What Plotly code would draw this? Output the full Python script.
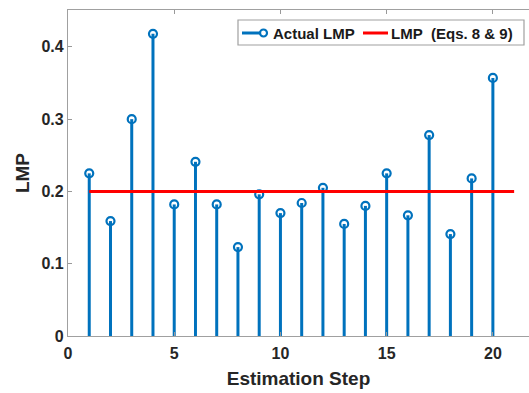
import plotly.graph_objects as go

steps = list(range(1, 21))
actual_lmp = [0.225, 0.159, 0.300, 0.418, 0.182, 0.241, 0.182, 0.123, 0.196, 0.170,
              0.184, 0.205, 0.155, 0.180, 0.225, 0.167, 0.278, 0.141, 0.218, 0.357]
eq_x = [1, 21]
eq_lmp = [0.2, 0.2]

x_ticks = [0, 5, 10, 15, 20]
y_ticks = [0, 0.1, 0.2, 0.3, 0.4]
y_tick_text = ["0", "0.1", "0.2", "0.3", "0.4"]
legend_names = ["Actual LMP", "LMP&nbsp;&nbsp;(Eqs. 8 &amp; 9)"]

blue = "#0072BD"
red = "#FF0000"
W, H = 529, 393
L, R, T, B = 68, 0, 10, 57
font_family = "Arial, Liberation Sans, sans-serif"

stem_x, stem_y = [], []
for s, v in zip(steps, actual_lmp):
    stem_x += [s, s, None]
    stem_y += [0, v, None]

fig = go.Figure()
fig.add_trace(go.Scatter(x=stem_x, y=stem_y, mode="lines",
                         line=dict(color=blue, width=3), showlegend=False, hoverinfo="skip"))
fig.add_trace(go.Scatter(x=steps, y=actual_lmp, mode="markers", name=legend_names[0],
                         marker=dict(symbol="circle-open", size=8, color=blue,
                                     line=dict(width=2.2, color=blue)),
                         showlegend=False))
fig.add_trace(go.Scatter(x=eq_x, y=eq_lmp, mode="lines", name=legend_names[1],
                         line=dict(color=red, width=3), showlegend=False))

# manual MATLAB-style legend (pixel -> paper helpers)
pw, ph = W - L - R, H - T - B
def px(x):
    return (x - L) / pw
def py(y):
    return (H - B - y) / ph

shapes = [
    dict(type="rect", xref="paper", yref="paper", x0=px(238), x1=px(524), y0=py(45), y1=py(20),
         line=dict(color="#a0a0a0", width=1.2), fillcolor="white", layer="above"),
    dict(type="line", xref="paper", yref="paper", x0=px(242), x1=px(265), y0=py(33), y1=py(33),
         line=dict(color=blue, width=3), layer="above"),
    dict(type="circle", xref="paper", yref="paper", x0=px(260), x1=px(267), y0=py(36.5), y1=py(29.5),
         line=dict(color=blue, width=2.2), fillcolor="white", layer="above"),
    dict(type="line", xref="paper", yref="paper", x0=px(363), x1=px(388), y0=py(33), y1=py(33),
         line=dict(color=red, width=3), layer="above"),
]
annotations = [
    dict(xref="paper", yref="paper", x=px(271), y=py(33), xanchor="left", yanchor="middle",
         text=legend_names[0], showarrow=False,
         font=dict(size=15, weight="bold", color="#1a1a1a", family=font_family)),
    dict(xref="paper", yref="paper", x=px(389), y=py(33), xanchor="left", yanchor="middle",
         text=legend_names[1], showarrow=False,
         font=dict(size=15, weight="bold", color="#1a1a1a", family=font_family)),
]

fig.update_layout(
    width=W, height=H,
    margin=dict(l=L, r=R, t=T, b=B),
    paper_bgcolor="white", plot_bgcolor="white",
    font=dict(family=font_family, color="#262626"),
    showlegend=False,
    shapes=shapes, annotations=annotations,
    xaxis=dict(range=[0, 21.7], tickvals=x_ticks, ticks="inside", ticklen=4,
               tickcolor="#999999", showline=True, linecolor="#a0a0a0", linewidth=1.2,
               mirror="ticks", showgrid=False, zeroline=False, automargin=False,
               ticklabelstandoff=3,
               tickfont=dict(size=16, weight="bold", color="#262626"),
               title=dict(text="Estimation Step", font=dict(size=19, weight="bold", color="#262626"),
                          standoff=10)),
    yaxis=dict(range=[0, 0.451], tickvals=y_ticks, ticktext=y_tick_text,
               ticks="inside", ticklen=4, tickcolor="#999999",
               showline=True, linecolor="#a0a0a0", linewidth=1.2, mirror=False,
               showgrid=False, zeroline=False, automargin=False,
               tickfont=dict(size=16, weight="bold", color="#262626"),
               title=dict(text="LMP", font=dict(size=19, weight="bold", color="#262626"), standoff=6)),
)

fig.write_html("out.html", config={"displayModeBar": False},
               post_script="document.body.style.margin='0px';")
